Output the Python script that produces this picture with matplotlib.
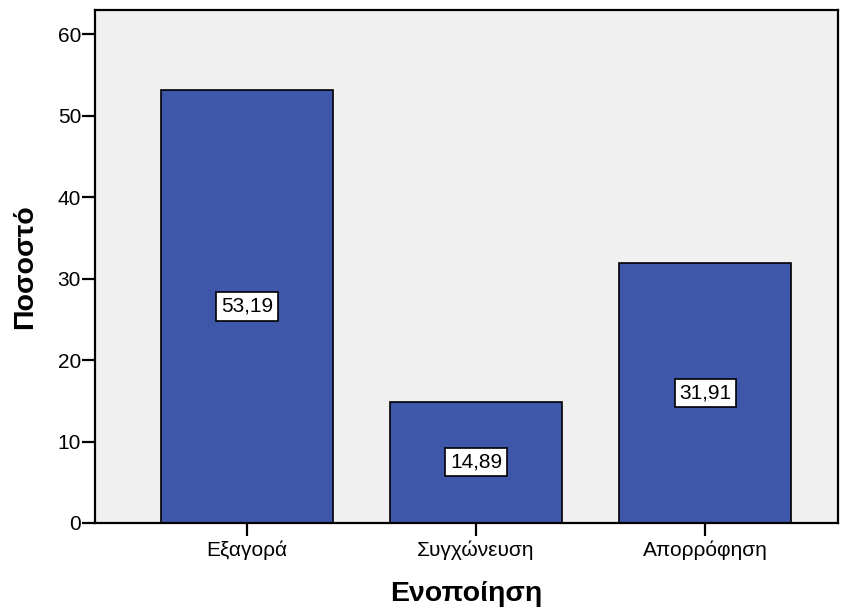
import matplotlib
matplotlib.use("Agg")
import matplotlib.pyplot as plt

categories = ["Εξαγορά", "Συγχώνευση", "Απορρόφηση"]
values = [53.19, 14.89, 31.91]
yticks = [0, 10, 20, 30, 40, 50, 60]

plt.rcParams["font.family"] = ["Liberation Sans", "DejaVu Sans"]

fig = plt.figure(figsize=(8.46, 6.10), dpi=100)
ax = fig.add_axes([95 / 846, 87 / 610, 743 / 846, 513 / 610])
ax.set_facecolor("#F0F0F0")

x = list(range(len(categories)))
ax.bar(x, values, width=0.75, color="#3E57A8", edgecolor="black", linewidth=1.2, zorder=2)

for xi, v in zip(x, values):
    ax.text(xi, v / 2, f"{v:.2f}".replace(".", ","), ha="center", va="center",
            fontsize=15, zorder=3,
            bbox=dict(boxstyle="square,pad=0.22", facecolor="white", edgecolor="black", linewidth=1.2))

ax.set_xlim(-0.664, 2.58)
ax.set_ylim(0, 63)
ax.set_yticks(yticks)
ax.set_xticks(x)
ax.set_xticklabels(categories)
ax.tick_params(axis="both", direction="out", length=9.5, width=1.6, labelsize=15, colors="black")
ax.tick_params(axis="y", pad=0.5)
ax.tick_params(axis="x", pad=3)
for s in ax.spines.values():
    s.set_linewidth(1.6)

ax.set_xlabel("Ενοποίηση", fontsize=20.5, fontweight="bold", labelpad=15)
ax.set_ylabel("Ποσοστό", fontsize=20.5, fontweight="bold", labelpad=14)

fig.savefig("out.png", dpi=100)
